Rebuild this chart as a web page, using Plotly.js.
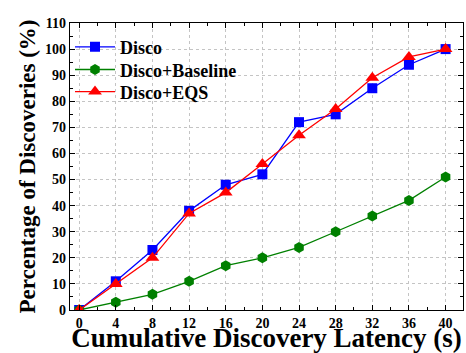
<!DOCTYPE html>
<html><head><meta charset="utf-8">
<script src="https://cdn.plot.ly/plotly-3.0.1.min.js"></script>
<style>body{margin:0;background:#fff}#c{width:466px;height:353px}</style>
</head><body><div id="c"></div>
<script>
const latency = [0,4,8,12,16,20,24,28,32,36,40];
const disco = [0,11,23,38,48,52,72,75,85,94,100];
const baseline = [0,3,6,11,17,20,24,30,36,42,51];
const eqs = [0,10,20,37,45,56,67,77,89,97,100];
const seriesNames = ['Disco','Disco+Baseline','Disco+EQS'];

const font = 'Liberation Serif, Times New Roman, serif';
const traces = [
  {x:latency,y:disco,name:seriesNames[0],legend:'legend',mode:'lines+markers',line:{color:'#0000ff',width:1.3},marker:{symbol:'square',size:10,color:'#0000ff'}},
  {x:latency,y:baseline,name:seriesNames[1],legend:'legend2',mode:'lines+markers',line:{color:'#008000',width:1.3},marker:{symbol:'hexagon',size:11,color:'#008000'}},
  {x:latency,y:eqs,name:seriesNames[2],legend:'legend3',mode:'lines+markers',line:{color:'#ff0000',width:1.3},marker:{symbol:'triangle-up',size:12,color:'#ff0000'}}
];
const axBase = {showline:true,linecolor:'#000',linewidth:1.3,mirror:'ticks',ticks:'inside',ticklen:5,tickwidth:1.2,tickcolor:'#000',
  showgrid:true,gridcolor:'#c4c4c4',griddash:'dot',gridwidth:1,zeroline:false,
  tickfont:{family:font,size:14,color:'#000',weight:'bold'}};
const legBase = {x:0.0,xanchor:'left',yanchor:'middle',bgcolor:'rgba(0,0,0,0)',
  font:{family:font,size:18,weight:'bold',color:'#000'},itemwidth:40};
const layout = {
  width:466,height:353,margin:{l:70,r:3,t:23,b:43},
  paper_bgcolor:'#fff',plot_bgcolor:'#fff',
  font:{family:font,color:'#000'},
  xaxis:Object.assign({},axBase,{range:[-1,41.9],tickvals:latency,
    minor:{ticks:'inside',ticklen:3,dtick:2,tick0:0,tickcolor:'#000'},
    title:{text:'Cumulative Discovery Latency (s)',font:{family:font,size:27,weight:'bold'},standoff:0}}),
  yaxis:Object.assign({},axBase,{range:[0,110],dtick:10,
    minor:{ticks:'inside',ticklen:3,dtick:5,tickcolor:'#000'},
    title:{text:'Percentage of Discoveries (%)',font:{family:font,size:23,weight:'bold'},standoff:2}}),
  legend:Object.assign({},legBase,{y:0.916}),
  legend2:Object.assign({},legBase,{y:0.837}),
  legend3:Object.assign({},legBase,{y:0.760}),
  showlegend:true
};
Plotly.newPlot('c',traces,layout,{displayModeBar:false});
</script></body></html>
